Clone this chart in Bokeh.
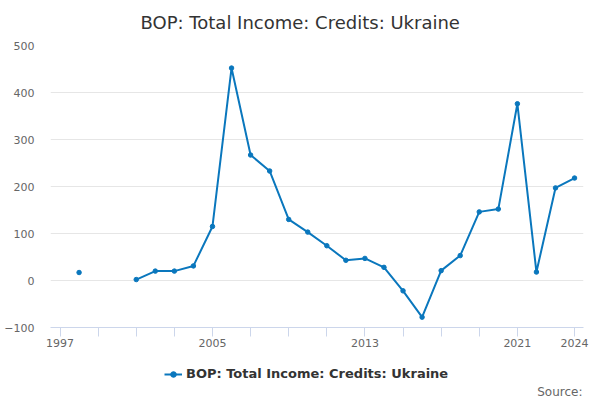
import numpy as np
from bokeh.plotting import figure
from bokeh.layouts import column
from bokeh.models import (Legend, LegendItem, FixedTicker, Range1d, ColumnDataSource, Label, Title)
from bokeh.embed import file_html
from bokeh.resources import INLINE

years = [1998, 1999, 2000, 2001, 2002, 2003, 2004, 2005, 2006, 2007, 2008, 2009, 2010,
         2011, 2012, 2013, 2014, 2015, 2016, 2017, 2018, 2019, 2020, 2021, 2022, 2023, 2024]
values = [17, np.nan, np.nan, 2, 20, 20, 31, 115, 452, 267, 233, 130, 103,
          74, 43, 47, 28, -22, -78, 21, 53, 146, 152, 376, 18, 197, 218]
x_ticks = [1997, 1999, 2001, 2003, 2005, 2007, 2009, 2011, 2013, 2015, 2017, 2019, 2021, 2024]
x_labels_shown = [1997, 2005, 2013, 2021, 2024]
y_ticks = [-100, 0, 100, 200, 300, 400, 500]
series_name = "BOP: Total Income: Credits: Ukraine"
title_text = "BOP: Total Income: Credits: Ukraine"
source_text = "Source:"

FONT = "DejaVu Sans"
COLOR = "#0a77bd"

p = figure(width=600, height=355, output_backend="svg", toolbar_location=None,
           x_range=Range1d(1996.5, 2024.47), y_range=Range1d(-100, 500),
           min_border_left=50, min_border_right=17, min_border_top=45, min_border_bottom=28)

src = ColumnDataSource(dict(x=years, y=values))
p.line("x", "y", source=src, line_color=COLOR, line_width=2)
p.scatter("x", "y", source=src, size=4.5, fill_color=COLOR, line_color=COLOR)

p.title = Title(text=title_text, align="left", offset=90, vertical_align="top",
                standoff=21, text_font=FONT, text_font_size="18px",
                text_font_style="normal", text_color="#333333")

# axes
p.xaxis.ticker = FixedTicker(ticks=x_ticks)
p.xaxis.major_label_overrides = {t: (str(t) if t in x_labels_shown else "") for t in x_ticks}
p.xaxis.axis_line_color = "#ccd6eb"
p.xaxis.major_tick_line_color = "#ccd6eb"
p.xaxis.major_tick_in = 0
p.xaxis.major_tick_out = 9
p.xaxis.minor_tick_line_color = None
p.xaxis.major_label_text_font = FONT
p.xaxis.major_label_text_font_size = "11px"
p.xaxis.major_label_text_color = "#666666"
p.xaxis.major_label_standoff = 2

p.yaxis.ticker = FixedTicker(ticks=y_ticks)
p.yaxis.axis_line_color = None
p.yaxis.major_tick_line_color = None
p.yaxis.major_tick_in = 0
p.yaxis.major_tick_out = 0
p.yaxis.minor_tick_line_color = None
p.yaxis.major_label_text_font = FONT
p.yaxis.major_label_text_font_size = "11px"
p.yaxis.major_label_text_color = "#666666"
p.yaxis.major_label_standoff = 16

p.xgrid.grid_line_color = None
p.ygrid.grid_line_color = "#e6e6e6"
p.outline_line_color = None

# legend strip below the chart
lf = figure(width=600, height=45, output_backend="svg", toolbar_location=None,
            x_range=Range1d(0, 1), y_range=Range1d(0, 1),
            min_border=0, x_axis_location=None, y_axis_location=None)
lf.xgrid.grid_line_color = None
lf.ygrid.grid_line_color = None
lf.outline_line_color = None
lsrc = ColumnDataSource(dict(x=[-10, -9], y=[-10, -10]))
l_line = lf.line("x", "y", source=lsrc, line_color=COLOR, line_width=2)
l_pts = lf.scatter("x", "y", source=lsrc, size=4.5, fill_color=COLOR, line_color=COLOR)

legend = Legend(items=[LegendItem(label=series_name, renderers=[l_line, l_pts])],
                location=(114, 19), orientation="horizontal",
                label_text_font=FONT, label_text_font_size="13px",
                label_text_font_style="bold", label_text_color="#333333",
                border_line_color=None, background_fill_alpha=0,
                glyph_width=18, glyph_height=14, label_height=14,
                label_standoff=4, padding=0, margin=0)
lf.add_layout(legend, "center")

src_label = Label(x=532, y=9, x_units="screen", y_units="screen", text=source_text,
                  text_align="right", text_baseline="middle", text_font=FONT,
                  text_font_size="12px", text_color="#666666")
lf.add_layout(src_label)

layout = column(p, lf, spacing=0)
open("out.html", "w").write(file_html(layout, INLINE))
